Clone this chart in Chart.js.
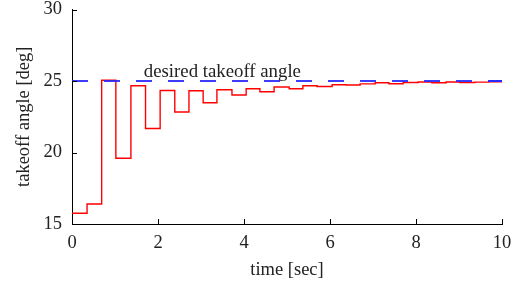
<!DOCTYPE html>
<html>
<head>
<meta charset="utf-8">
<script src="https://cdn.jsdelivr.net/npm/chart.js@4"></script>
<style>
  html, body { margin: 0; padding: 0; background: #fff; }
  #wrap { width: 521px; height: 289px; }
</style>
</head>
<body>
<div id="wrap"><canvas id="chart" width="521" height="289"></canvas></div>
<script>
// step start times [sec] (last entry closes the final step)
const stepTimes = [0, 0.35, 0.69, 1.02, 1.37, 1.71, 2.05, 2.39, 2.72, 3.05,
  3.37, 3.72, 4.05, 4.37, 4.70, 5.05, 5.37, 5.70, 6.05, 6.37,
  6.70, 7.05, 7.37, 7.70, 8.05, 8.37, 8.70, 9.02, 9.37, 9.70, 10];
// takeoff angle held over each step [deg]
const angleValues = [15.75, 16.40, 25.05, 19.60, 24.67, 21.68, 24.34, 22.83, 24.32, 23.48,
  24.39, 24.02, 24.46, 24.25, 24.58, 24.46, 24.67, 24.62, 24.74, 24.72,
  24.80, 24.88, 24.81, 24.90, 24.93, 24.88, 24.93, 24.90, 24.92, 24.94];
const desiredAngle = 25;
const desiredLabel = 'desired takeoff angle';
const labelAt = { x: 1.67, y: 25.3 };
const xTicks = [0, 2, 4, 6, 8, 10];
const yTicks = [15, 20, 25, 30];

const FONT = "'Liberation Serif', 'Times New Roman', serif";
const TEXT = '#222';

const redPoints = stepTimes.map((t, i) => ({ x: t, y: angleValues[Math.min(i, angleValues.length - 1)] }));

// inward tick marks + the text label
const decorations = {
  id: 'decorations',
  afterDatasetsDraw(chart) {
    const { ctx, scales: { x, y } } = chart;
    ctx.save();
    ctx.strokeStyle = '#000';
    ctx.lineWidth = 1;
    ctx.beginPath();
    xTicks.forEach(v => {
      const px = Math.round(x.getPixelForValue(v)) + 0.5;
      ctx.moveTo(px, y.bottom);
      ctx.lineTo(px, y.bottom - 5);
    });
    yTicks.forEach(v => {
      const py = Math.round(y.getPixelForValue(v)) + 0.5;
      ctx.moveTo(x.left, py);
      ctx.lineTo(x.left + 5, py);
    });
    ctx.stroke();

    ctx.fillStyle = TEXT;
    ctx.font = '18.8px ' + FONT;
    ctx.textAlign = 'left';
    ctx.textBaseline = 'alphabetic';
    ctx.fillText(desiredLabel, x.getPixelForValue(labelAt.x), y.getPixelForValue(labelAt.y));
    ctx.restore();
  }
};

new Chart(document.getElementById('chart'), {
  type: 'line',
  data: {
    datasets: [
      {
        data: [{ x: 0, y: desiredAngle }, { x: 10, y: desiredAngle }],
        borderColor: '#2828ff',
        borderWidth: 1.8,
        borderDash: [16, 16],
        pointRadius: 0,
        fill: false
      },
      {
        data: redPoints,
        borderColor: '#ff0000',
        borderWidth: 1.4,
        stepped: 'before',
        pointRadius: 0,
        fill: false
      }
    ]
  },
  options: {
    responsive: false,
    animation: false,
    layout: { padding: { top: 9.5, right: 19, bottom: 0, left: 0 } },
    plugins: { legend: { display: false }, tooltip: { enabled: false } },
    scales: {
      x: {
        type: 'linear',
        min: 0, max: 10,
        afterBuildTicks: s => { s.ticks = xTicks.map(v => ({ value: v })); },
        afterFit: s => { s.height = 65; s.paddingLeft = 0; s.paddingRight = 0; },
        grid: { display: false, drawTicks: false },
        border: { display: true, color: '#000', width: 1 },
        ticks: { padding: 10, color: TEXT, font: { family: FONT, size: 18.5, lineHeight: 1 }, maxRotation: 0 },
        title: { display: true, text: 'time [sec]', color: TEXT, font: { family: FONT, size: 18.5 }, padding: { top: 0, bottom: 8 } }
      },
      y: {
        min: 15, max: 30,
        afterBuildTicks: s => { s.ticks = yTicks.map(v => ({ value: v })); },
        afterFit: s => { s.width = 72; s.paddingTop = 0; s.paddingBottom = 0; },
        grid: { display: false, drawTicks: false },
        border: { display: true, color: '#000', width: 1 },
        ticks: { padding: 10, color: TEXT, font: { family: FONT, size: 18.5, lineHeight: 1 } },
        title: { display: true, text: 'takeoff angle [deg]', color: TEXT, font: { family: FONT, size: 18.5 }, padding: { top: 13, bottom: 0 } }
      }
    }
  },
  plugins: [decorations]
});
</script>
</body>
</html>
